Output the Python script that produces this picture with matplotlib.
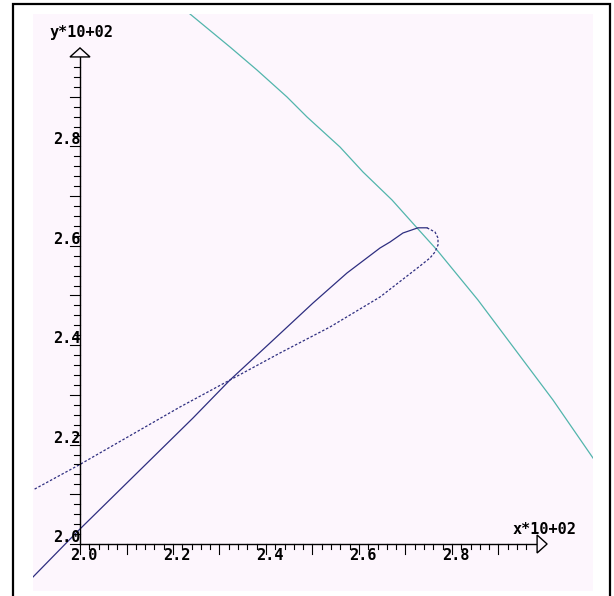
import matplotlib
matplotlib.use('Agg')
import matplotlib.pyplot as plt
from matplotlib.patches import Rectangle, Polygon

teal_x = [223.66, 232.26, 238.06, 244.52, 248.82, 255.91, 260.86, 267.10,
          272.69, 276.77, 285.59, 301.72, 310.32]
teal_y = [306.64, 300.00, 295.37, 289.94, 285.92, 279.88, 274.85, 269.22,
          263.38, 259.15, 249.09, 228.97, 217.30]

solid_x = [189.89, 199.78, 224.30, 232.26, 240.86, 250.11, 257.42, 264.52,
           266.67, 269.46, 272.69, 274.62]
solid_y = [193.36, 202.82, 225.35, 233.00, 240.44, 248.49, 254.53, 259.56,
           260.76, 262.58, 263.62, 263.62]

dotted_x = [274.62, 276.34, 276.99, 276.99, 276.34, 275.27, 273.12, 264.52,
            253.76, 243.01, 232.26, 221.51, 199.78, 189.89]
dotted_y = [263.62, 262.78, 261.57, 260.16, 258.75, 257.55, 255.94, 249.70,
            243.66, 238.43, 233.00, 227.57, 215.90, 210.87]

x_tick_vals = [200, 220, 240, 260, 280]
x_tick_labels = ['2.0', '2.2', '2.4', '2.6', '2.8']
y_tick_vals = [200, 220, 240, 260, 280]
y_tick_labels = ['2.0', '2.2', '2.4', '2.6', '2.8']

W, H = 614, 596
PX_X = 4.65   # pixels per unit, x
PX_Y = 4.97   # pixels per unit, y
bg = '#fdf6fd'
navy = '#2e2e80'
teal = '#52b5ac'
fnt = dict(family='DejaVu Sans Mono', weight='bold', size=11)

fig = plt.figure(figsize=(W / 100, H / 100), dpi=100)
fig.patches.append(Rectangle((13 / W, -0.02), (610 - 13) / W, 1.02 - 4 / H,
                             transform=fig.transFigure, fill=False,
                             ec='black', lw=1.6))

ax = fig.add_axes([33 / W, 5 / H, 560 / W, 577 / H])
ax.set_facecolor(bg)
ax.set_xlim(200 - 47 / PX_X, 200 + 513 / PX_X)
ax.set_ylim(200 - 47 / PX_Y, 200 + 530 / PX_Y)
for s in ax.spines.values():
    s.set_visible(False)
ax.set_xticks([])
ax.set_yticks([])

# curves
ax.plot(teal_x, teal_y, color=teal, lw=0.9)
ax.plot(solid_x, solid_y, color=navy, lw=0.9)
ax.plot(dotted_x, dotted_y, color=navy, lw=0.9, ls=(0, (2, 1.5)))

# axes with arrows
x_end, y_end = 298.3, 298.0
ax.plot([200, x_end], [200, 200], color='k', lw=1, zorder=3)
ax.plot([200, 200], [200, y_end], color='k', lw=1, zorder=3)
ax.add_patch(Polygon([(x_end, 200 - 9 / PX_Y), (x_end + 10 / PX_X, 200),
                      (x_end, 200 + 9 / PX_Y)], closed=True, fc=bg,
                     ec='k', lw=1, zorder=3))
ax.add_patch(Polygon([(200 - 10 / PX_X, y_end), (200, y_end + 9 / PX_Y),
                      (200 + 10 / PX_X, y_end)], closed=True, fc=bg,
                     ec='k', lw=1, zorder=3))

for v in range(200, 297, 2):
    ln = 10 if v % 10 == 0 else 5
    ax.plot([v, v], [200, 200 - ln / PX_Y], color='k', lw=0.8, zorder=3)
    ln = 10 if v % 10 == 0 else 6
    ax.plot([200, 200 - ln / PX_X], [v, v], color='k', lw=0.8, zorder=3)

for v, lab in zip(x_tick_vals, x_tick_labels):
    ax.annotate(lab, (v, 200), xytext=(4, -12), textcoords='offset pixels',
                ha='center', va='center', **fnt)
for v, lab in zip(y_tick_vals, y_tick_labels):
    ax.annotate(lab, (200, v), xytext=(1, -1), textcoords='offset pixels',
                ha='right', va='bottom', **fnt)

fig.text(50 / W, 1 - 32 / H, 'y*10+02', ha='left', va='center', **fnt)
fig.text(513 / W, 1 - 529 / H, 'x*10+02', ha='left', va='center', **fnt)

fig.savefig('out.png', dpi=100)
